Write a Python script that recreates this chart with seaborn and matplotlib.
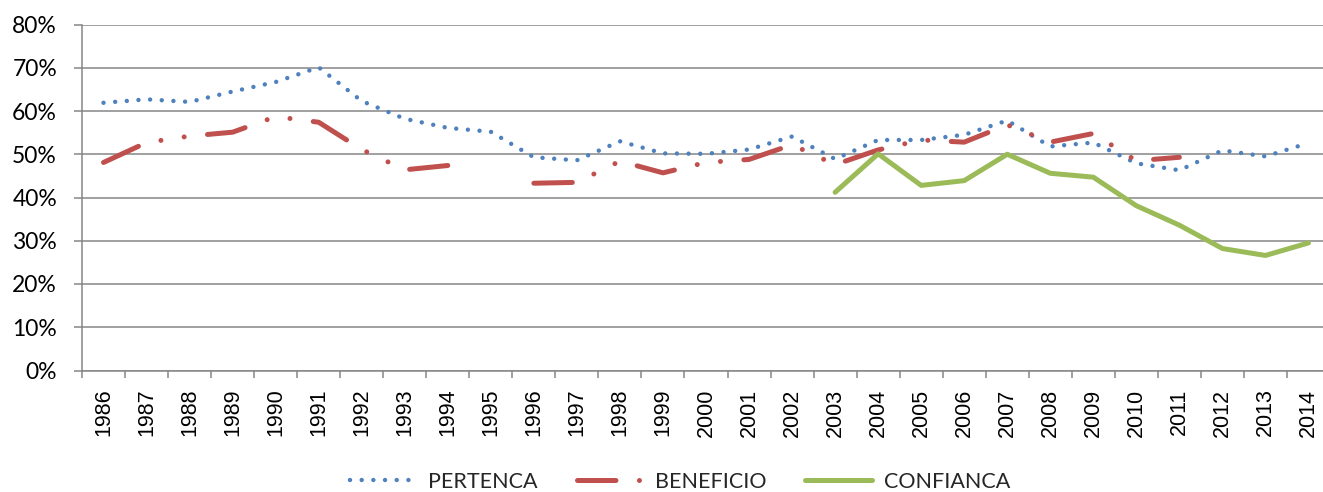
import numpy as np
import pandas as pd
import matplotlib
matplotlib.use("Agg")
import matplotlib.pyplot as plt
from matplotlib.ticker import PercentFormatter, FixedLocator
import seaborn as sns

# ---- data ----
years = list(range(1986, 2015))
pertenca = [61.9, 62.7, 62.1, 64.5, 66.7, 70.1, 62.3, 58.2, 56.1, 55.2,
            49.3, 48.6, 53.0, 50.2, 50.1, 51.1, 54.1, 48.9, 53.3, 53.3,
            54.5, 57.8, 51.8, 52.7, 47.9, 46.3, 50.9, 49.5, 52.6]
beneficio = [48.1, 52.7, 54.2, 55.1, 58.7, 57.4, 51.1, 46.4, 47.4, np.nan,
             43.3, 43.5, 48.4, 45.7, 48.1, 48.8, 52.2, 47.6, 51.0, 53.3,
             52.8, 56.8, 52.8, 54.8, 48.5, 49.3, np.nan, np.nan, np.nan]
confianca = [np.nan] * 17 + [41.2, 50.1, 42.8, 43.9, 50.0, 45.6, 44.7,
                             38.1, 33.6, 28.2, 26.6, 29.5]
series_names = ["PERTENCA", "BENEFICIO", "CONFIANCA"]
y_ticks = [0, 0.1, 0.2, 0.3, 0.4, 0.5, 0.6, 0.7, 0.8]

# ---- style ----
sns.set_theme(style="white")
plt.rcParams["font.family"] = ["Lato", "DejaVu Sans"]
plt.rcParams["lines.scale_dashes"] = False

W, H = 1323, 492
fig = plt.figure(figsize=(W / 100, H / 100), dpi=100)
ax = fig.add_axes([82 / W, 121.5 / H, 1248 / W, 346 / H])

colors = {"PERTENCA": "#4F81BD", "BENEFICIO": "#C0504D", "CONFIANCA": "#9BBB59"}
styles = {
    "PERTENCA": dict(lw=3.2, linestyle=(0, (0.01, 8.4)), dash_capstyle="round"),
    "BENEFICIO": dict(lw=3.6, linestyle=(0, (27.7, 16.9, 0.01, 16.9, 0.01, 16.9)),
                      dash_capstyle="round", dash_joinstyle="round"),
    "CONFIANCA": dict(lw=3.6, linestyle="-", solid_capstyle="round",
                      solid_joinstyle="round"),
}

df = pd.DataFrame({"year": years, "PERTENCA": pertenca,
                   "BENEFICIO": beneficio, "CONFIANCA": confianca})

for z, name in enumerate(series_names):
    s = df[["year", name]].rename(columns={name: "value"})
    s["value"] = s["value"] / 100.0
    valid = s["value"].notna()
    seg_id = (valid != valid.shift()).cumsum()
    first = True
    for _, seg in s[valid].groupby(seg_id[valid]):
        sns.lineplot(data=seg, x="year", y="value", ax=ax, color=colors[name],
                     errorbar=None, label=name if first else None,
                     zorder=3 + z, **styles[name])
        first = False

if ax.get_legend() is not None:
    ax.get_legend().remove()

# ---- axes ----
grid_c = "#868686"
ax.set_xlim(1985.5, 2014.5)
ax.set_ylim(0, 0.8)
ax.yaxis.set_major_locator(FixedLocator(y_ticks))
ax.yaxis.set_major_formatter(PercentFormatter(1.0, decimals=0))
ax.xaxis.set_major_locator(FixedLocator(years))
ax.xaxis.set_minor_locator(FixedLocator([y - 0.5 for y in years] + [2014.5]))
ax.set_xticklabels([str(y) for y in years], rotation=90,
                   fontfamily="Liberation Sans", fontsize=15.5, color="black")
ax.tick_params(axis="x", which="major", length=0, pad=13)
ax.tick_params(axis="x", which="minor", length=5, width=1.1, color=grid_c,
               direction="out", bottom=True)
ax.tick_params(axis="y", which="major", length=6, width=1.1, color=grid_c,
               direction="out", left=True, pad=12, labelsize=16.5,
               labelcolor="black")
ax.grid(axis="y", color=grid_c, lw=1.1, zorder=0)
ax.grid(axis="x", visible=False)
ax.set_axisbelow(True)
for sp in ["top", "right"]:
    ax.spines[sp].set_visible(False)
for sp in ["left", "bottom"]:
    ax.spines[sp].set_color(grid_c)
    ax.spines[sp].set_linewidth(1.1)
ax.set_xlabel("")
ax.set_ylabel("")

handles, labels = ax.get_legend_handles_labels()
fig.legend(handles, labels, loc="center", bbox_to_anchor=(680 / W, 10 / H),
           ncol=3, frameon=False, fontsize=15.5, handlelength=3.1,
           handletextpad=0.55, columnspacing=1.8, borderaxespad=0)

fig.savefig("out.png", dpi=100)
